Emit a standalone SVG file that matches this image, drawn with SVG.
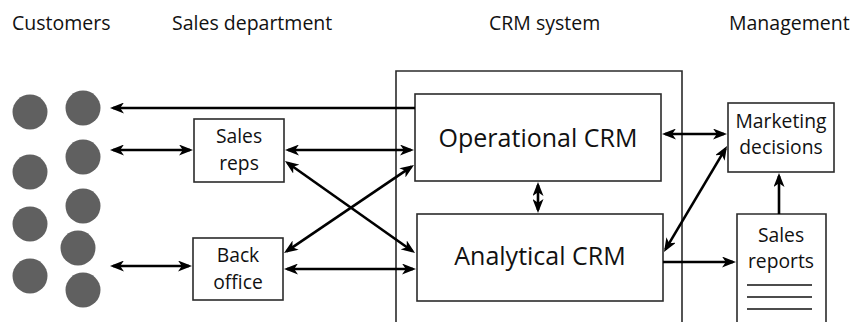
<svg xmlns="http://www.w3.org/2000/svg" width="857" height="322" viewBox="0 0 857 322">
  <style>
    .box { fill: #ffffff; stroke: #2b2b2b; stroke-width: 1.6; }
    .frame { fill: none; stroke: #2b2b2b; stroke-width: 1.6; }
    .cust { fill: #606060; }
    .head { font-family: "Open Sans", "Noto Sans", sans-serif; font-size: 19.5px; fill: #111111; }
    .lbl { font-family: "Open Sans", "Noto Sans", sans-serif; font-size: 19.3px; fill: #111111; text-anchor: middle; }
    .big { font-family: "Open Sans", "Noto Sans", sans-serif; font-size: 25px; fill: #111111; text-anchor: middle; }
    .link { stroke: #000000; stroke-width: 2.6; fill: none; }
    .one { marker-end: url(#head); }
    .two { marker-start: url(#head); marker-end: url(#head); }
    .rule { stroke: #111111; stroke-width: 1.5; }
  </style>
  <defs>
    <marker id="head" viewBox="0 0 14 11" refX="11" refY="5.5" markerWidth="14" markerHeight="11" markerUnits="userSpaceOnUse" orient="auto-start-reverse">
      <path d="M0,0 L14,5.5 L0,11 L3.8,5.5 Z" fill="#000000"/>
    </marker>
  </defs>

  <!-- column headings -->
  <g id="headings">
    <text class="head" x="12" y="30">Customers</text>
    <text class="head" x="172" y="30">Sales department</text>
    <text class="head" x="489" y="30">CRM system</text>
    <text class="head" x="729" y="30">Management</text>
  </g>

  <!-- customers -->
  <g id="customers">
    <circle class="cust" cx="30" cy="112" r="17.5"/>
    <circle class="cust" cx="30" cy="172" r="17.5"/>
    <circle class="cust" cx="30" cy="224" r="17.5"/>
    <circle class="cust" cx="30" cy="276" r="17.5"/>
    <circle class="cust" cx="83" cy="108" r="17.5"/>
    <circle class="cust" cx="83" cy="157" r="17.5"/>
    <circle class="cust" cx="83" cy="206" r="17.5"/>
    <circle class="cust" cx="78" cy="248" r="17.5"/>
    <circle class="cust" cx="83" cy="290" r="17.5"/>
  </g>

  <!-- CRM system frame -->
  <g id="crm-system">
    <path class="frame" d="M396,324 V71 H682 V324"/>
  </g>

  <g id="sales-reps">
    <rect class="box" x="194" y="119" width="90" height="63"/>
    <text class="lbl" x="239" y="143">Sales</text>
    <text class="lbl" x="239" y="170">reps</text>
  </g>

  <g id="back-office">
    <rect class="box" x="193" y="238" width="90" height="62"/>
    <text class="lbl" x="238" y="262">Back</text>
    <text class="lbl" x="238" y="289">office</text>
  </g>

  <g id="operational-crm">
    <rect class="box" x="415" y="94" width="246" height="87"/>
    <text class="big" x="538" y="147">Operational CRM</text>
  </g>

  <g id="analytical-crm">
    <rect class="box" x="417" y="214" width="246" height="87"/>
    <text class="big" x="540" y="265">Analytical CRM</text>
  </g>

  <g id="marketing-decisions">
    <rect class="box" x="728" y="103" width="106" height="69"/>
    <text class="lbl" x="781" y="128">Marketing</text>
    <text class="lbl" x="781" y="154">decisions</text>
  </g>

  <g id="sales-reports">
    <path class="box" d="M737,324 V214 H826 V324"/>
    <text class="lbl" x="781" y="242">Sales</text>
    <text class="lbl" x="781" y="268">reports</text>
    <line class="rule" x1="747" y1="285" x2="812" y2="285"/>
    <line class="rule" x1="747" y1="297" x2="812" y2="297"/>
    <line class="rule" x1="747" y1="309" x2="812" y2="309"/>
  </g>

  <!-- connectors -->
  <g id="connectors">
    <line class="link one" x1="415" y1="108" x2="113" y2="108"/>
    <line class="link two" x1="113" y1="150" x2="190" y2="150"/>
    <line class="link two" x1="113" y1="266" x2="189" y2="266"/>
    <line class="link two" x1="288" y1="150" x2="411" y2="150"/>
    <line class="link two" x1="287" y1="269" x2="413" y2="269"/>
    <line class="link two" x1="287.4" y1="162.7" x2="412.6" y2="251.3"/>
    <line class="link two" x1="286.5" y1="251.3" x2="411.5" y2="166.7"/>
    <line class="link two" x1="538" y1="185" x2="538" y2="210"/>
    <line class="link two" x1="665" y1="134" x2="724" y2="134"/>
    <line class="link two" x1="665.5" y1="249.4" x2="725.5" y2="148.6"/>
    <line class="link one" x1="663" y1="262" x2="733" y2="262"/>
    <line class="link one" x1="779" y1="214" x2="779" y2="176"/>
  </g>
</svg>
